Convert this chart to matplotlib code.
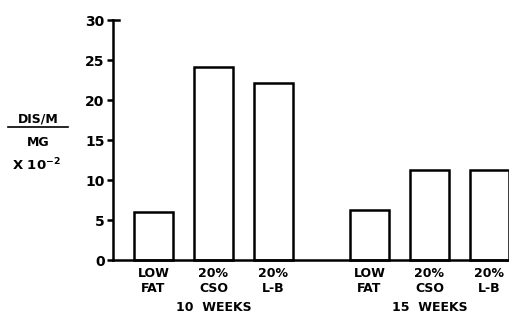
import numpy as np
import matplotlib.pyplot as plt

# dados: atividade (DIS/M por MG x 10^-2) por dieta e periodo
dietas = ['LOW\nFAT', '20%\nCSO', '20%\nL-B']
semanas_10 = [6.0, 24.1, 22.1]
semanas_15 = [6.2, 11.2, 11.2]
grupos = ['10  WEEKS', '15  WEEKS']

x10 = np.arange(3)
x15 = np.arange(3) + 3.6
largura = 0.65

plt.rcParams['font.family'] = 'DejaVu Sans'
plt.rcParams['font.weight'] = 'bold'

fig = plt.figure(figsize=(5.09, 3.23), dpi=100)
ax = fig.add_axes([0.222, 0.195, 0.778, 0.743])

for xs, vals in [(x10, semanas_10), (x15, semanas_15)]:
    ax.bar(xs, vals, width=largura, facecolor='white', edgecolor='black',
           linewidth=1.8, clip_on=False)

ax.set_xlim(-0.675, 5.925)
ax.set_ylim(0, 30)
ax.set_yticks(np.arange(0, 31, 5))
ax.tick_params(axis='y', direction='out', length=4, width=1.8,
               labelsize=10, pad=2)
ax.tick_params(axis='x', length=0, pad=5)
ax.set_xticks(list(x10) + list(x15))
ax.set_xticklabels(dietas * 2, fontsize=9, linespacing=1.25)

ax.spines['top'].set_visible(False)
ax.spines['right'].set_visible(False)
ax.spines['left'].set_linewidth(1.8)
ax.spines['bottom'].set_linewidth(1.8)

# pequeno traco no topo do eixo y
ax.plot([-0.675, -0.58], [30, 30], color='black', lw=1.8, clip_on=False)

# rotulos dos grupos
ax.text(x10.mean(), -5.9, grupos[0], ha='center', va='center', fontsize=9)
ax.text(x15.mean(), -5.9, grupos[1], ha='center', va='center', fontsize=9)

# rotulo do eixo y em forma de fracao
fig.text(0.075, 0.632, 'DIS/M', ha='center', va='center', fontsize=9)
fig.add_artist(plt.Line2D([0.016, 0.134], [0.606, 0.606], color='black', lw=1.2))
fig.text(0.075, 0.56, 'MG', ha='center', va='center', fontsize=9)
fig.text(0.072, 0.49, r'X 10$^{\mathbf{-2}}$', ha='center', va='center', fontsize=9.5)

fig.savefig('out.png', dpi=100)
